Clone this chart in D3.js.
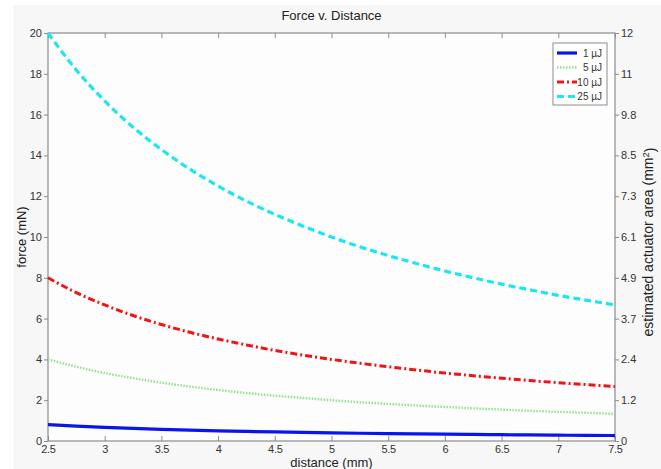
<!DOCTYPE html>
<html>
<head>
    <title>Force v. Distance</title>
    <script src="https://d3js.org/d3.v7.min.js"></script>
    <style>
        body { margin: 0; background: #fff; }
        text { font-family: "Liberation Sans", Arial, sans-serif; }
    </style>
</head>
<body>
<div id="chart"></div>
<script>
// distance (mm)
const distance = [2.5, 2.75, 3, 3.25, 3.5, 3.75, 4, 4.25, 4.5, 4.75, 5, 5.25, 5.5, 5.75, 6, 6.25, 6.5, 6.75, 7, 7.25, 7.5];
// force (mN)
const force1 = [0.8, 0.727, 0.667, 0.615, 0.571, 0.533, 0.5, 0.471, 0.444, 0.421, 0.4, 0.381, 0.364, 0.348, 0.333, 0.32, 0.308, 0.296, 0.286, 0.276, 0.267];
const force5 = [4, 3.64, 3.33, 3.08, 2.86, 2.67, 2.5, 2.35, 2.22, 2.11, 2.0, 1.9, 1.82, 1.74, 1.67, 1.6, 1.54, 1.48, 1.43, 1.38, 1.33];
const force10 = [8, 7.27, 6.67, 6.15, 5.71, 5.33, 5.0, 4.71, 4.44, 4.21, 4.0, 3.81, 3.64, 3.48, 3.33, 3.2, 3.08, 2.96, 2.86, 2.76, 2.67];
const force25 = [20, 18.18, 16.67, 15.38, 14.29, 13.33, 12.5, 11.76, 11.11, 10.53, 10.0, 9.52, 9.09, 8.7, 8.33, 8.0, 7.69, 7.41, 7.14, 6.9, 6.67];
const seriesNames = ["1 \u00b5J", "5 \u00b5J", "10 \u00b5J", "25 \u00b5J"];

const xTicks = [2.5, 3, 3.5, 4, 4.5, 5, 5.5, 6, 6.5, 7, 7.5];
const leftTicks = [0, 2, 4, 6, 8, 10, 12, 14, 16, 18, 20];
const rightTickLabels = ["0", "1.2", "2.4", "3.7", "4.9", "6.1", "7.3", "8.5", "9.8", "11", "12"];

const W = 661, H = 469;
const margin = { top: 33, right: 46, bottom: 28, left: 48 };
const width = W - margin.left - margin.right;
const height = H - margin.top - margin.bottom;

const root = d3.select("#chart").append("svg")
    .attr("width", W)
    .attr("height", H);

// figure background
root.append("rect")
    .attr("x", 13).attr("y", 5)
    .attr("width", W - 13).attr("height", H - 5)
    .attr("fill", "#f7f7f7");

const svg = root.append("g")
    .attr("transform", `translate(${margin.left},${margin.top})`);

const x = d3.scaleLinear().domain([2.5, 7.5]).range([0, width]);
const y = d3.scaleLinear().domain([0, 20]).range([height, 0]);
const y2 = d3.scaleLinear().domain([0, 10]).range([height, 0]);

svg.append("rect")
    .attr("width", width).attr("height", height)
    .attr("fill", "#fdfdfd");

const axisColor = "#8c8c8c";
const labelColor = "#333";

function styleAxis(g) {
    g.select(".domain").remove();
    g.selectAll("line").attr("stroke", axisColor);
    g.selectAll("text").attr("fill", labelColor).style("font-size", "11px");
}

// bottom axis, inward ticks
svg.append("g")
    .attr("transform", `translate(0,${height})`)
    .call(d3.axisBottom(x).tickValues(xTicks).tickSize(-5).tickPadding(4).tickFormat(d3.format("")))
    .call(styleAxis);
svg.selectAll("g text").attr("letter-spacing", "-0.3px");

// top axis, inward ticks, no labels
svg.append("g")
    .call(d3.axisTop(x).tickValues(xTicks).tickSize(-5).tickFormat(""))
    .call(styleAxis);

// left axis
svg.append("g")
    .call(d3.axisLeft(y).tickValues(leftTicks).tickSize(4).tickPadding(2))
    .call(styleAxis);

// right axis
svg.append("g")
    .attr("transform", `translate(${width},0)`)
    .call(d3.axisRight(y2).tickValues(d3.range(rightTickLabels.length))
        .tickFormat((d, i) => rightTickLabels[i]).tickSize(4).tickPadding(2))
    .call(styleAxis);

// frame
svg.append("rect")
    .attr("width", width).attr("height", height)
    .attr("fill", "none")
    .attr("stroke", axisColor)
    .attr("stroke-width", 1.2);

const series = [
    { name: seriesNames[0], values: force1, color: "#0a14f0", width: 3.2, dash: null },
    { name: seriesNames[1], values: force5, color: "#8fe08f", width: 2.4, dash: "1.5,1.5" },
    { name: seriesNames[2], values: force10, color: "#f01414", width: 3, dash: "7,3,2,3" },
    { name: seriesNames[3], values: force25, color: "#1ee6ee", width: 3.2, dash: "7,4" }
];

const line = d3.line()
    .x((d, i) => x(distance[i]))
    .y(d => y(d))
    .curve(d3.curveMonotoneX);

svg.selectAll(".series")
    .data(series)
    .enter()
    .append("path")
    .attr("class", "series")
    .attr("d", d => line(d.values))
    .attr("fill", "none")
    .attr("stroke", d => d.color)
    .attr("stroke-width", d => d.width)
    .attr("stroke-dasharray", d => d.dash);

// legend
const legend = svg.append("g")
    .attr("transform", `translate(${553 - margin.left},${43 - margin.top})`);
legend.append("rect")
    .attr("width", 54).attr("height", 62)
    .attr("fill", "#fff")
    .attr("stroke", axisColor);
const rows = legend.selectAll(".row")
    .data(series)
    .enter()
    .append("g")
    .attr("transform", (d, i) => `translate(0,${10 + i * 14.5})`);
rows.append("line")
    .attr("x1", 4).attr("x2", 24)
    .attr("stroke", d => d.color)
    .attr("stroke-width", d => d.width)
    .attr("stroke-dasharray", d => d.dash);
rows.append("text")
    .attr("x", 49).attr("dy", "0.35em")
    .attr("text-anchor", "end")
    .attr("fill", labelColor)
    .style("font-size", "10px")
    .text(d => d.name);

// titles
root.append("text")
    .attr("x", margin.left + width / 2).attr("y", 20)
    .attr("text-anchor", "middle")
    .attr("fill", "#222")
    .style("font-size", "13px")
    .text("Force v. Distance");

root.append("text")
    .attr("x", margin.left + width / 2).attr("y", 467)
    .attr("text-anchor", "middle")
    .attr("fill", "#222")
    .style("font-size", "13px")
    .text("distance (mm)");

root.append("text")
    .attr("transform", `translate(26,${margin.top + height / 2}) rotate(-90)`)
    .attr("text-anchor", "middle")
    .attr("fill", "#222")
    .style("font-size", "13px")
    .text("force (mN)");

const rl = root.append("text")
    .attr("transform", `translate(653,${margin.top + height / 2 + 5}) rotate(-90)`)
    .attr("text-anchor", "middle")
    .attr("fill", "#222")
    .style("font-size", "14px");
rl.append("tspan").text("estimated actuator area (mm");
rl.append("tspan").attr("dy", "-0.4em").style("font-size", "9.5px").text("2");
rl.append("tspan").attr("dy", "0.4em").text(")");
</script>
</body>
</html>
